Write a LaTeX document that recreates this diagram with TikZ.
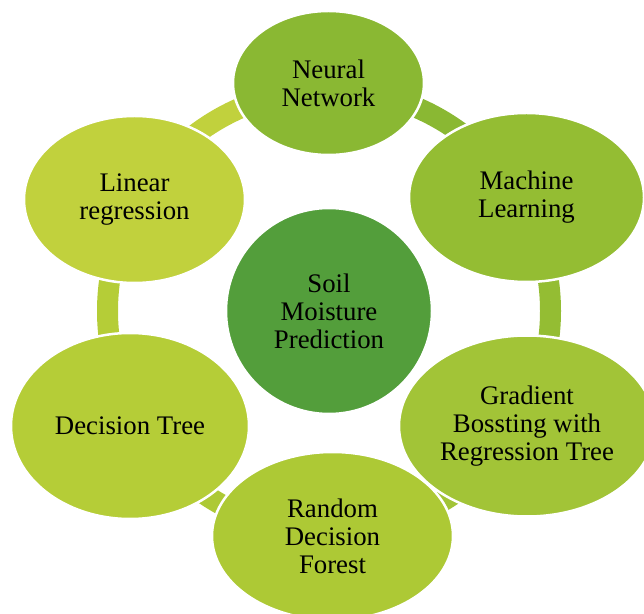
\documentclass[tikz,border=0pt]{standalone}
\usepackage{fontspec}
\setmainfont{Liberation Serif}
\usetikzlibrary{shapes.geometric,calc}
\definecolor{cNeural}{RGB}{138,184,51}
\definecolor{cML}{RGB}{148,189,51}
\definecolor{cGrad}{RGB}{162,196,55}
\definecolor{cRand}{RGB}{173,201,53}
\definecolor{cDec}{RGB}{181,205,55}
\definecolor{cLin}{RGB}{193,209,61}
\definecolor{cCenter}{RGB}{83,158,59}
\tikzset{
  blob/.style={ellipse, draw=white, line width=2.5pt, inner sep=0pt, outer sep=0pt,
    align=center, text=black, font=\fontsize{26.8}{28}\selectfont},
  ringseg/.style={line width=21pt, line cap=butt},
}
\begin{document}
\begin{tikzpicture}[x=1pt,y=1pt]
\useasboundingbox (0,0) rectangle (644,613);
\clip (0,0) rectangle (644,613);
\coordinate (ring) at (329,302);
\def\R{221.5}
% ring segments
\draw[ringseg, cNeural] ($(ring)+(90:\R)$) arc[start angle=90, end angle=30, radius=\R];
\draw[ringseg, cML] ($(ring)+(30:\R)$) arc[start angle=30, end angle=-30, radius=\R];
\draw[ringseg, cGrad] ($(ring)+(-30:\R)$) arc[start angle=-30, end angle=-90, radius=\R];
\draw[ringseg, cRand] ($(ring)+(-90:\R)$) arc[start angle=-90, end angle=-150, radius=\R];
\draw[ringseg, cDec] ($(ring)+(-150:\R)$) arc[start angle=-150, end angle=-210, radius=\R];
\draw[ringseg, cLin] ($(ring)+(150:\R)$) arc[start angle=150, end angle=90, radius=\R];
% outer nodes
\node[blob, fill=cNeural, minimum width=191, minimum height=144] (nn) at (328.5,530) {Neural\\Network};
\node[blob, fill=cML, minimum width=235, minimum height=169] (ml) at (526.5,415.5) {Machine\\Learning};
\node[blob, fill=cGrad, minimum width=256, minimum height=181] (gb) at (527,187) {Gradient\\Bossting with\\Regression Tree};
\node[blob, fill=cDec, minimum width=238, minimum height=186] (dt) at (130,187) {Decision Tree};
\node[blob, fill=cRand, minimum width=241, minimum height=168] (rf) at (332.5,77) {Random\\Decision\\Forest};
\node[blob, fill=cLin, minimum width=221, minimum height=167] (lr) at (134.5,413.5) {Linear\\regression};
% centre
\node[blob, circle, fill=cCenter, minimum size=206] (soil) at (329,302) {Soil\\Moisture\\Prediction};
\end{tikzpicture}
\end{document}
